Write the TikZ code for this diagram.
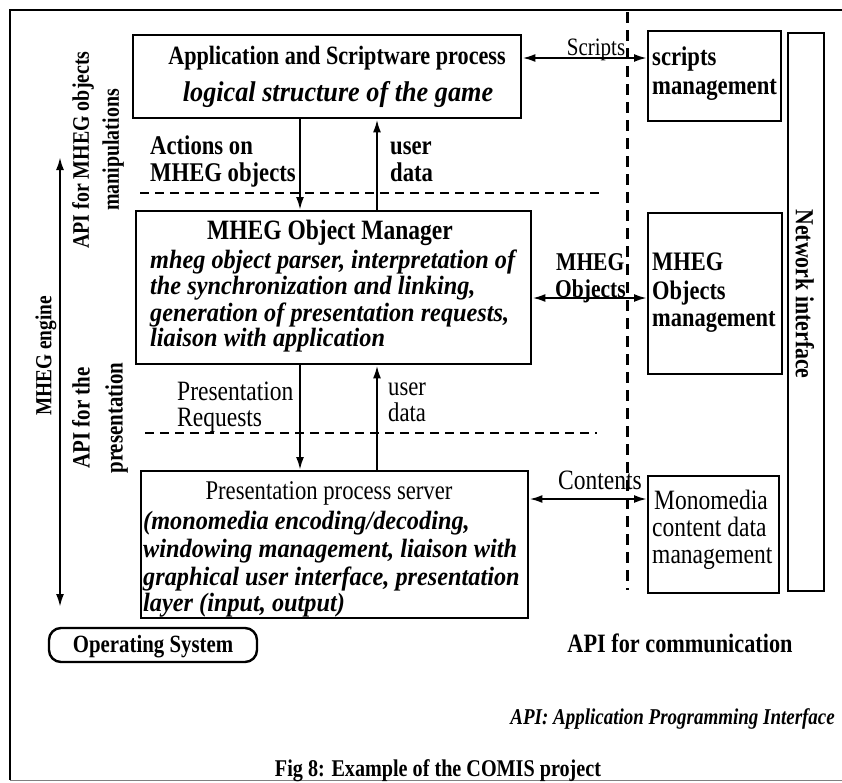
\documentclass[tikz,border=0pt]{standalone}
\usepackage{fontspec}
\setmainfont{Liberation Serif}[FakeStretch=0.84]
\newfontfamily\boxit{Liberation Serif}[FakeStretch=0.92]
\usetikzlibrary{arrows.meta}
\newcommand{\fs}[1]{\fontsize{#1}{#1}\selectfont}
\begin{document}
\begin{tikzpicture}[x=1pt,y=-1pt,
  box/.style={draw, line width=2.4pt, anchor=north west, inner sep=0pt},
  txt/.style={inner sep=0pt, text height=17pt, text depth=0pt, font=\fs{27}},
  btxt/.style={txt, font=\fs{27}\bfseries},
  itxt/.style={txt, font=\boxit\fs{26.4}\bfseries\itshape},
  arr/.style={line width=2.2pt, -{Latex[length=13pt,width=8pt]}},
  darr/.style={line width=2.2pt, {Latex[length=13pt,width=8pt]}-{Latex[length=13pt,width=8pt]}},
  sep/.style={line width=2pt, dash pattern=on 9pt off 6pt},
  vsep/.style={line width=3pt, dash pattern=on 11pt off 7pt},
  vlbl/.style={inner sep=0pt, rotate=90, align=center}
]
\useasboundingbox (0,0) rectangle (842,782);

% outer frame
\draw[line width=2.4pt] (842,10) -- (10,10) -- (10,780);
\draw[line width=0.8pt, gray] (10,780) -- (842,780);

% boxes
\node[box, minimum width=388pt, minimum height=83pt]  (app)  at (132,34)  {};
\node[box, minimum width=395pt, minimum height=153pt] (mgr)  at (135,210) {};
\node[box, minimum width=387pt, minimum height=147pt] (pres) at (140,470) {};
\node[box, minimum width=133pt, minimum height=90pt]  (scr)  at (647,30)  {};
\node[box, minimum width=134pt, minimum height=161pt] (mob)  at (647,212) {};
\node[box, minimum width=131pt, minimum height=117pt] (mono) at (647,475) {};
\node[box, minimum width=36pt,  minimum height=558pt] (net)  at (787,32)  {};
\node[draw, line width=2.4pt, rounded corners=12pt, minimum width=208pt, minimum height=34pt,
      inner sep=0pt, btxt, font=\fs{24.8}\bfseries, text height=15pt] (os) at (153,645) {Operating System};

% text of the application box
\node[btxt, font=\fs{26.4}\bfseries] (appT) at (337,56) {Application and Scriptware process};
\node[itxt, font=\boxit\fs{28.5}\bfseries\itshape] (appS) at (338,93) {logical structure of the game};

% text of the object manager
\node[btxt, font=\fs{28}\bfseries] (mgrT) at (330,231) {MHEG Object Manager};
\node[itxt, anchor=west] (mgr1) at (150,260) {mheg object parser, interpretation of};
\node[itxt, anchor=west] (mgr2) at (150,286) {the synchronization and linking,};
\node[itxt, anchor=west] (mgr3) at (150,313) {generation of presentation requests,};
\node[itxt, anchor=west] (mgr4) at (150,338) {liaison with application};

% text of the presentation server
\node[txt] (presT) at (329,491) {Presentation process server};
\node[itxt, anchor=west] (pres1) at (143,521) {(monomedia encoding/decoding,};
\node[itxt, anchor=west] (pres2) at (143,549) {windowing management, liaison with};
\node[itxt, anchor=west] (pres3) at (143,577) {graphical user interface, presentation};
\node[itxt, anchor=west] (pres4) at (143,603) {layer (input, output)};

% right-hand management boxes
\node[btxt, anchor=west] (scr1) at (652,57) {scripts};
\node[btxt, anchor=west] (scr2) at (652,86) {management};
\node[btxt, anchor=west, font=\fs{26.7}\bfseries] (mob1) at (652,262) {MHEG};
\node[btxt, anchor=west, font=\fs{26.7}\bfseries] (mob2) at (652,291) {Objects};
\node[btxt, anchor=west, font=\fs{26.7}\bfseries] (mob3) at (652,318) {management};
\node[txt, anchor=west, font=\fs{28}] (mono1) at (654,501) {Monomedia};
\node[txt, anchor=west, font=\fs{28}] (mono2) at (652,528) {content data};
\node[txt, anchor=west, font=\fs{28}] (mono3) at (652,555) {management};
\node[vlbl, rotate=180, font=\fs{26}\bfseries] (netT) at (805,294) {Network interface};

% separators
\coordinate (d1a) at (140,193); \coordinate (d1b) at (602,193);
\coordinate (d2a) at (145,433); \coordinate (d2b) at (597,433);
\coordinate (vda) at (627,12);  \coordinate (vdb) at (627,590);
\draw[sep] (d1a) -- (d1b);
\draw[sep] (d2a) -- (d2b);
\draw[vsep] (vda) -- (vdb);

% vertical flows
\coordinate (xd) at (300,0);
\coordinate (xu) at (377,0);
\draw[arr] (app.south -| xd) -- (mgr.north -| xd);
\draw[arr] (mgr.north -| xu) -- (app.south -| xu);
\draw[arr] (mgr.south -| xd) -- (pres.north -| xd);
\draw[arr] (pres.north -| xu) -- (mgr.south -| xu);

\node[btxt, anchor=west] (act1) at (150,146) {Actions on};
\node[btxt, anchor=west] (act2) at (150,173) {MHEG objects};
\node[btxt, anchor=west] (ud1) at (390,146) {user};
\node[btxt, anchor=west] (ud2) at (390,173) {data};
\node[txt, anchor=west, font=\fs{28}] (pr1) at (177,392) {Presentation};
\node[txt, anchor=west, font=\fs{28}] (pr2) at (177,418) {Requests};
\node[txt, anchor=west] (ud3) at (388,387) {user};
\node[txt, anchor=west] (ud4) at (388,413) {data};

% horizontal exchanges
\coordinate (ys) at (0,58);
\coordinate (ym) at (0,298);
\coordinate (yc) at (0,499);
\draw[darr] (app.east |- ys) -- (scr.west |- ys);
\draw[darr] (mgr.east |- ym) -- (mob.west |- ym);
\draw[darr] (pres.east |- yc) -- (mono.west |- yc);
\node[txt, font=\fs{25}] (lblS) at (596,47) {Scripts};
\node[btxt, anchor=west, font=\fs{25.6}\bfseries] (lblM1) at (556,262) {MHEG};
\node[btxt, anchor=west, font=\fs{25.6}\bfseries] (lblM2) at (555,289) {Objects};
\node[txt, font=\fs{28}] (lblC) at (600,481) {Contents};

% layer annotations on the left
\coordinate (ea) at (60,157);
\coordinate (eb) at (60,607);
\draw[darr] (ea) -- (eb);
\node[vlbl, font=\fs{23}\bfseries] (eng) at (46,356) {MHEG engine};
\node[vlbl, font=\fontsize{23.7}{30}\selectfont\bfseries] (apiM) at (98,150) {API for MHEG objects\\manipulations};
\node[vlbl, font=\fontsize{24.9}{33}\selectfont\bfseries] (apiP) at (100,418) {API for the\\presentation};

% bottom texts
\node[btxt, font=\fs{26.5}\bfseries] (apiC) at (680,644) {API for communication};
\node[txt, anchor=east, font=\fs{22.6}\bfseries\itshape, text height=15pt] (apiD) at (835,717) {API: Application Programming Interface};
\node[txt, font=\fs{24}\bfseries, text height=15pt] (fig) at (438,769) {Fig 8: Example of the COMIS project};
\end{tikzpicture}
\end{document}
